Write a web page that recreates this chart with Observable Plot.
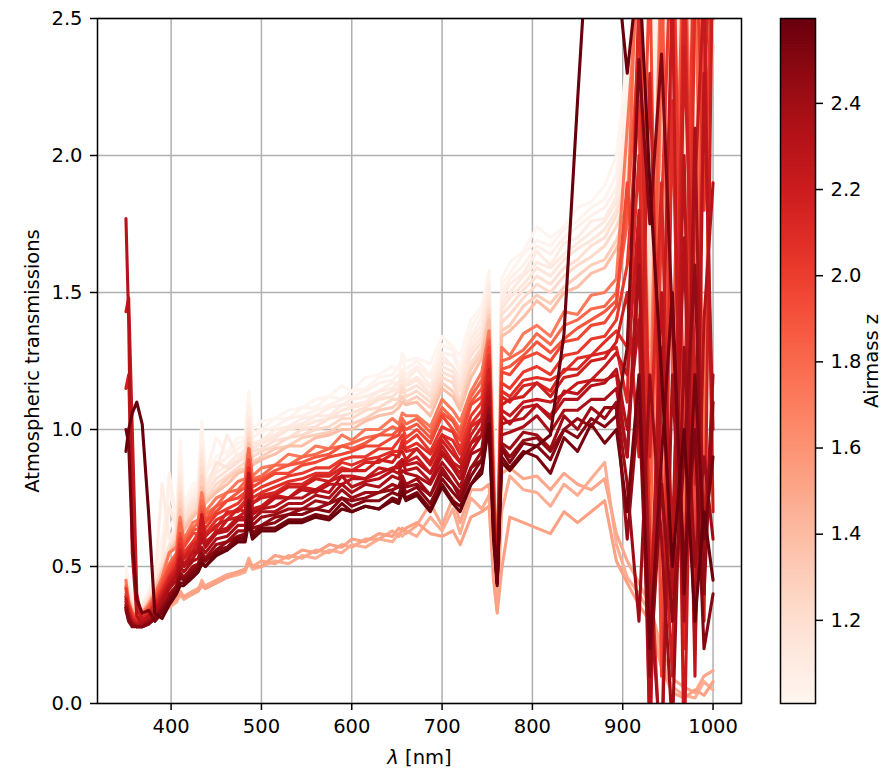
<!DOCTYPE html>
<html><head><meta charset="utf-8">
<script src="https://cdn.jsdelivr.net/npm/d3@7"></script>
<script src="https://cdn.jsdelivr.net/npm/@observablehq/plot@0.6"></script>
<style>
html,body{margin:0;padding:0;background:#fff;}
#wrap{position:relative;width:892px;height:770px;font-family:"DejaVu Sans",sans-serif;}
#main{position:absolute;left:0;top:0;}
#cbar{position:absolute;left:770px;top:0;}
</style></head><body><div id="wrap"><div id="main"></div><div id="cbar"></div></div>
<script>
const wavelength = [350,353,357,362,368,375,382,390,398,406, 410,414,424,430,434,438,450,462,474,482, 486,490,500,515,530,545,560,575,589,600, 615,630,645,652,656,660,672,687,700,712, 720,732,744,752,757,761,766,775,790,805, 820,835,850,865,880,893,905,918,930,943, 955,968,980,990,1000];
const airmass = [1.01,1.03,1.05,1.08,1.11,1.14,1.18,1.23,1.30,1.38, 1.47,1.50,1.53, 1.72,1.80,1.88,1.95,2.02,2.08,2.13,2.18,2.22,2.27,2.31,2.36,2.41,2.45,2.50,2.54,2.59];

const p01 = [0.50,0.44,0.38,0.36,0.37,0.41,0.47,0.56,0.64,0.69, 0.96,0.73,0.80,0.81,1.03,0.84,0.90,0.92,0.97,0.97, 1.14,1.00,1.03,1.04,1.07,1.08,1.11,1.12,1.16,1.14, 1.19,1.20,1.23,1.22,1.28,1.25,1.26,1.24,1.34,1.30, 1.27,1.40,1.45,1.58,0.98,0.55,1.55,1.61,1.65,1.74, 1.70,1.74,1.81,1.83,1.89,2.00,2.35,2.80,2.40,3.00, 2.60,3.20,2.70,3.00,2.80];
const p02 = [0.47,0.43,0.38,0.35,0.36,0.40,0.46,0.60,0.78,0.67, 0.92,0.72,0.78,0.80,1.00,0.83,0.97,0.91,0.95,0.96, 1.11,0.99,1.00,1.04,1.04,1.08,1.08,1.12,1.11,1.14, 1.15,1.19,1.20,1.23,1.25,1.22,1.25,1.20,1.31,1.29, 1.23,1.37,1.44,1.56,0.97,0.53,1.53,1.57,1.64,1.69, 1.67,1.73,1.76,1.81,1.84,1.93,2.25,2.70,2.20,2.95, 2.45,3.10,2.55,2.95,3.00];
const p03 = [0.46,0.42,0.37,0.35,0.36,0.40,0.45,0.53,0.84,0.66, 0.88,0.71,0.76,0.79,0.99,0.81,0.86,0.90,0.93,0.95, 1.08,0.97,0.99,1.01,1.04,1.05,1.07,1.09,1.11,1.12, 1.14,1.17,1.18,1.20,1.22,1.20,1.23,1.19,1.28,1.27, 1.21,1.34,1.41,1.54,0.95,0.52,1.50,1.55,1.60,1.67, 1.64,1.70,1.74,1.78,1.81,1.88,2.15,2.60,2.00,2.80, 2.20,2.95,2.30,2.80,3.00];
const p04 = [0.45,0.41,0.36,0.34,0.35,0.39,0.45,0.80,0.60,0.65, 0.85,0.69,0.75,0.77,0.94,0.80,0.85,0.98,0.90,0.93, 1.05,0.95,0.96,1.00,1.01,1.04,1.05,1.08,1.09,1.11, 1.12,1.14,1.17,1.17,1.21,1.18,1.22,1.16,1.27,1.23, 1.19,1.33,1.38,1.52,0.94,0.50,1.48,1.53,1.57,1.65, 1.60,1.68,1.70,1.76,1.77,1.85,2.10,2.50,1.90,2.70, 2.00,2.80,2.20,2.70,2.90];
const p05 = [0.44,0.40,0.36,0.34,0.35,0.39,0.44,0.52,0.72,0.64, 0.84,0.69,0.74,0.76,0.93,0.79,0.84,0.87,0.91,0.91, 1.04,0.94,0.96,0.98,1.01,1.02,1.05,1.05,1.09,1.09, 1.10,1.14,1.15,1.17,1.19,1.17,1.19,1.15,1.25,1.23, 1.17,1.31,1.36,1.50,0.93,0.50,1.46,1.50,1.56,1.61, 1.59,1.64,1.68,1.72,1.76,1.83,2.05,2.45,1.80,2.65, 1.90,2.75,2.05,2.65,2.80];
const p06 = [0.44,0.40,0.36,0.34,0.35,0.38,0.44,0.51,0.58,0.63, 0.82,0.68,0.73,0.75,0.91,0.78,0.88,0.86,0.89,0.91, 1.02,0.93,0.95,0.97,1.00,1.01,1.03,1.04,1.07,1.08, 1.09,1.12,1.14,1.15,1.18,1.16,1.18,1.13,1.23,1.21, 1.15,1.29,1.34,1.48,0.92,0.50,1.44,1.48,1.53,1.59, 1.56,1.62,1.66,1.69,1.73,1.80,1.95,2.40,1.70,2.55, 1.85,2.70,1.95,2.60,2.70];
const p07 = [0.43,0.39,0.35,0.33,0.34,0.38,0.43,0.50,0.57,0.62, 0.79,0.67,0.72,0.74,0.89,0.77,0.82,0.85,0.88,0.90, 1.00,0.92,0.93,0.96,0.97,1.00,1.01,1.04,1.05,1.06, 1.08,1.11,1.12,1.14,1.16,1.14,1.16,1.12,1.21,1.19, 1.14,1.27,1.32,1.46,0.90,0.49,1.42,1.45,1.51,1.56, 1.53,1.59,1.62,1.67,1.70,1.78,1.90,2.30,1.60,2.40, 2.90,2.20,3.00,2.30,2.80];
const p08 = [0.42,0.39,0.35,0.33,0.34,0.37,0.42,0.49,0.56,0.61, 0.77,0.65,0.70,0.73,0.86,0.75,0.80,0.83,0.86,0.88, 0.99,0.90,0.92,0.94,0.97,0.98,1.00,1.01,1.04,1.04, 1.07,1.08,1.11,1.11,1.15,1.12,1.14,1.10,1.19,1.17, 1.11,1.24,1.30,1.44,0.89,0.49,1.39,1.42,1.48,1.53, 1.50,1.56,1.60,1.63,1.67,1.74,1.85,2.20,1.50,2.30, 2.70,2.00,2.80,2.10,2.60];
const p09 = [0.42,0.38,0.35,0.33,0.34,0.37,0.42,0.48,0.55,0.60, 0.74,0.64,0.69,0.71,0.83,0.74,0.78,0.82,0.85,0.86, 0.97,0.88,0.90,0.93,0.94,0.97,0.98,0.99,1.02,1.02, 1.04,1.07,1.08,1.10,1.12,1.10,1.12,1.08,1.17,1.14, 1.09,1.22,1.28,1.42,0.87,0.48,1.36,1.38,1.45,1.49, 1.46,1.52,1.56,1.60,1.62,1.69,1.80,2.15,1.40,2.20, 2.60,1.80,2.70,1.95,2.50];
const p10 = [0.41,0.38,0.34,0.33,0.33,0.37,0.41,0.48,0.55,0.59, 0.71,0.63,0.68,0.70,0.79,0.73,0.77,0.80,0.84,0.85, 0.95,0.87,0.89,0.91,0.94,0.94,0.97,0.98,1.00,1.00, 1.03,1.05,1.06,1.08,1.10,1.09,1.10,1.05,1.15,1.12, 1.07,1.19,1.26,1.40,0.86,0.48,1.34,1.36,1.41,1.47, 1.43,1.50,1.52,1.57,1.59,1.66,1.75,2.10,1.30,2.10, 2.50,1.60,2.60,1.80,2.40];
const q01 = [0.36,0.33,0.30,0.29,0.29,0.30,0.31,0.33,0.35,0.37, 0.40,0.38,0.40,0.41,0.45,0.42,0.44,0.46,0.47,0.48, 0.52,0.49,0.50,0.52,0.51,0.54,0.53,0.56,0.55,0.58, 0.57,0.60,0.59,0.62,0.61,0.63,0.61,0.68,0.63,0.71, 0.62,0.75,0.71,0.76,0.50,0.34,0.70,0.83,0.78,0.77, 0.72,0.80,0.76,0.82,0.88,0.58,0.46,0.40,0.33,0.16, 0.06,0.03,0.02,0.08,0.05];
const q02 = [0.35,0.32,0.30,0.29,0.29,0.30,0.31,0.33,0.36,0.38, 0.41,0.39,0.41,0.42,0.44,0.43,0.45,0.47,0.48,0.49, 0.53,0.50,0.52,0.51,0.54,0.53,0.56,0.55,0.58,0.57, 0.60,0.60,0.63,0.61,0.64,0.62,0.65,0.73,0.65,0.75, 0.66,0.78,0.78,0.80,0.52,0.38,0.84,0.86,0.82,0.83, 0.78,0.84,0.80,0.78,0.82,0.62,0.52,0.44,0.36,0.20, 0.09,0.06,0.04,0.10,0.12];
const q03 = [0.37,0.34,0.31,0.29,0.30,0.31,0.32,0.34,0.36,0.38, 0.40,0.39,0.40,0.41,0.43,0.42,0.44,0.46,0.48,0.49, 0.51,0.50,0.50,0.54,0.53,0.56,0.55,0.58,0.57,0.60, 0.59,0.62,0.61,0.64,0.63,0.64,0.66,0.62,0.61,0.63, 0.58,0.68,0.70,0.72,0.45,0.33,0.49,0.68,0.66,0.64, 0.62,0.70,0.66,0.70,0.74,0.52,0.44,0.36,0.30,0.13, 0.04,0.02,0.05,0.03,0.08];
const m01 = [0.45,0.37,0.33,0.32,0.33,0.36,0.40,0.46,0.55,0.57, 0.68,0.60,0.66,0.67,0.77,0.70,0.75,0.77,0.81,0.82, 0.93,0.83,0.86,0.87,0.91,0.90,0.94,0.93,0.98,0.96, 1.00,1.00,1.04,1.02,1.06,1.05,1.05,1.01,1.11,1.07, 1.03,1.14,1.21,1.36,0.82,0.48,1.30,1.27,1.35,1.38, 1.34,1.43,1.42,1.49,1.50,1.55,2.10,2.70,1.00,2.80, 0.30,2.90,1.40,3.00,2.70];
const m02 = [0.43,0.37,0.33,0.32,0.32,0.35,0.39,0.45,0.51,0.55, 0.66,0.59,0.64,0.66,0.74,0.69,0.72,0.77,0.78,0.81, 0.93,0.82,0.83,0.87,0.87,0.90,0.91,0.93,0.94,0.95, 0.97,0.98,1.01,1.00,1.04,1.02,1.04,0.99,1.08,1.04, 1.00,1.12,1.18,1.33,0.80,0.48,1.25,1.26,1.29,1.35, 1.31,1.38,1.40,1.44,1.45,1.50,1.75,2.95,0.50,2.40, 3.10,0.60,2.80,0.90,2.90];
const m03 = [0.40,0.36,0.33,0.31,0.32,0.35,0.38,0.44,0.50,0.54, 0.60,0.58,0.63,0.64,0.72,0.67,0.72,0.74,0.77,0.79, 0.86,0.81,0.82,0.85,0.87,0.88,0.90,0.91,0.94,0.93, 0.95,0.98,0.98,1.00,1.02,1.00,1.02,0.97,1.06,1.03, 0.98,1.10,1.15,1.32,0.79,0.47,1.22,1.23,1.27,1.32, 1.28,1.33,1.37,1.40,1.43,1.47,1.80,2.40,0.80,2.60, 1.20,2.90,0.70,2.50,3.00];
const m04 = [0.39,0.36,0.32,0.31,0.32,0.34,0.38,0.43,0.49,0.53, 0.62,0.57,0.62,0.62,0.70,0.66,0.70,0.74,0.75,0.77, 0.89,0.79,0.81,0.84,0.84,0.87,0.88,0.90,0.91,0.92, 0.94,0.94,0.97,0.98,1.01,0.97,1.00,0.95,1.05,1.00, 0.96,1.09,1.12,1.30,0.78,0.47,1.21,1.20,1.26,1.28, 1.25,1.32,1.33,1.38,1.39,1.45,1.90,1.30,2.70,0.10, 2.60,3.00,0.40,2.70,3.00];
const m05 = [0.42,0.36,0.32,0.30,0.31,0.33,0.37,0.42,0.47,0.52, 0.60,0.55,0.59,0.62,0.66,0.64,0.69,0.71,0.73,0.76, 0.86,0.77,0.79,0.81,0.83,0.84,0.86,0.86,0.89,0.90, 0.90,0.93,0.93,0.96,0.98,0.95,0.98,0.92,1.01,0.99, 0.93,1.05,1.10,1.27,0.76,0.46,1.17,1.15,1.21,1.23, 1.20,1.27,1.28,1.33,1.34,1.40,1.60,2.20,-0.20,1.80, 2.90,1.00,3.00,1.80,2.80];
const m06 = [0.37,0.35,0.31,0.30,0.31,0.33,0.36,0.41,0.46,0.50, 0.58,0.54,0.58,0.60,0.68,0.62,0.67,0.69,0.71,0.74, 0.86,0.75,0.77,0.79,0.81,0.82,0.84,0.84,0.88,0.87, 0.89,0.90,0.92,0.92,0.96,0.93,0.95,0.91,0.98,0.96, 0.91,1.02,1.07,1.25,0.74,0.46,1.14,1.12,1.18,1.19, 1.18,1.21,1.26,1.27,1.32,1.36,1.30,2.00,0.60,-0.30, 2.20,0.20,2.60,3.10,2.50];
const m07 = [0.39,0.34,0.31,0.30,0.31,0.33,0.36,0.40,0.46,0.50, 0.55,0.53,0.58,0.59,0.68,0.62,0.64,0.70,0.70,0.73, 0.83,0.73,0.76,0.77,0.80,0.80,0.83,0.83,0.86,0.85, 0.88,0.88,0.91,0.90,0.94,0.92,0.93,0.88,0.98,0.93, 0.88,1.01,1.04,1.21,0.73,0.46,1.12,1.10,1.16,1.17, 1.14,1.22,1.22,1.27,1.28,1.30,1.10,2.60,0.90,1.90, 0.30,2.70,0.80,2.20,3.00];
const m08 = [1.15,1.20,0.70,0.36,0.30,0.32,0.35,0.40,0.45,0.49, 0.56,0.53,0.56,0.59,0.64,0.61,0.65,0.67,0.71,0.70, 0.84,0.73,0.75,0.76,0.79,0.79,0.82,0.81,0.85,0.85, 0.85,0.89,0.88,0.91,0.92,0.89,0.93,0.87,0.96,0.91, 0.88,0.98,1.04,1.22,0.72,0.45,1.09,1.11,1.12,1.17, 1.12,1.19,1.20,1.25,1.26,1.32,1.50,0.90,2.30,0.80, 0.10,2.40,1.20,0.30,2.90];
const m09 = [1.43,1.48,1.00,0.40,0.30,0.31,0.34,0.39,0.44,0.48, 0.54,0.51,0.55,0.57,0.69,0.59,0.62,0.67,0.68,0.70, 0.82,0.71,0.72,0.76,0.75,0.79,0.78,0.81,0.83,0.83, 0.82,0.86,0.85,0.88,0.89,0.88,0.90,0.84,0.94,0.88, 0.86,0.95,1.01,1.17,0.70,0.45,1.07,1.05,1.10,1.11, 1.10,1.13,1.17,1.18,1.23,1.28,1.20,1.80,0.30,1.10, 2.60,-0.20,1.90,2.60,0.70];
const m10 = [0.38,0.33,0.30,0.29,0.30,0.32,0.34,0.38,0.43,0.47, 0.51,0.50,0.55,0.55,0.62,0.58,0.63,0.64,0.68,0.68, 0.84,0.70,0.71,0.75,0.75,0.78,0.77,0.80,0.80,0.82, 0.82,0.84,0.86,0.86,0.89,0.87,0.88,0.84,0.92,0.87, 0.84,0.95,0.98,1.16,0.70,0.45,1.05,1.02,1.08,1.09, 1.05,1.14,1.13,1.18,1.18,1.20,0.90,1.70,0.20,1.50, 0.60,2.00,0.10,2.30,1.00];
const m11 = [1.77,1.40,0.55,0.32,0.29,0.31,0.33,0.38,0.43,0.47, 0.53,0.50,0.53,0.56,0.60,0.57,0.62,0.63,0.67,0.67, 0.79,0.69,0.71,0.72,0.75,0.75,0.78,0.77,0.83,0.79, 0.81,0.82,0.85,0.84,0.88,0.85,0.86,0.81,0.91,0.86, 0.82,0.92,0.98,1.14,0.69,0.44,1.02,1.03,1.04,1.09, 1.04,1.11,1.11,1.16,1.17,1.22,1.00,1.40,-0.10,1.30, 0.40,1.70,0.20,1.40,1.90];
const m12 = [0.36,0.32,0.29,0.28,0.29,0.30,0.32,0.37,0.42,0.45, 0.50,0.48,0.52,0.53,0.57,0.55,0.60,0.61,0.65,0.65, 0.75,0.67,0.70,0.70,0.73,0.73,0.76,0.75,0.80,0.77, 0.80,0.79,0.83,0.82,0.85,0.84,0.83,0.80,0.88,0.83, 0.79,0.91,0.93,1.12,0.67,0.44,0.98,0.99,1.01,1.05, 0.99,1.07,1.07,1.11,1.11,1.15,0.90,1.60,0.40,-0.20, 1.20,0.30,2.10,0.50,1.20];
const m13 = [0.35,0.31,0.29,0.28,0.28,0.30,0.31,0.35,0.40,0.43, 0.48,0.46,0.50,0.51,0.55,0.53,0.58,0.59,0.63,0.63, 0.73,0.65,0.68,0.69,0.71,0.71,0.74,0.73,0.78,0.75, 0.77,0.77,0.80,0.79,0.83,0.80,0.82,0.76,0.86,0.80, 0.77,0.86,0.92,1.08,0.66,0.44,0.95,0.93,0.99,0.98, 0.93,1.05,1.00,1.08,1.04,1.10,0.80,0.30,1.20,0.60, -0.10,1.30,0.50,0.90,0.60];
const m14 = [0.35,0.31,0.29,0.28,0.28,0.29,0.31,0.35,0.39,0.43, 0.47,0.46,0.49,0.50,0.55,0.52,0.56,0.59,0.61,0.62, 0.70,0.64,0.65,0.68,0.69,0.71,0.71,0.73,0.75,0.74, 0.75,0.77,0.78,0.79,0.81,0.79,0.80,0.76,0.84,0.80, 0.75,0.86,0.89,1.07,0.65,0.44,0.94,0.90,0.96,0.97, 0.92,1.00,1.04,1.01,1.08,1.08,0.60,1.10,0.10,0.80, 0.30,0.90,1.60,0.40,1.10];
const m15 = [0.34,0.30,0.28,0.28,0.28,0.29,0.31,0.34,0.38,0.42, 0.46,0.45,0.48,0.50,0.53,0.52,0.56,0.57,0.61,0.61, 0.74,0.62,0.65,0.66,0.69,0.69,0.71,0.70,0.75,0.72, 0.74,0.74,0.77,0.76,0.80,0.77,0.79,0.73,0.82,0.77, 0.74,0.83,0.89,1.05,0.64,0.44,0.93,0.88,0.95,0.94, 0.89,1.00,0.97,1.04,1.01,1.05,1.30,2.35,1.75,2.37, 1.40,0.50,1.00,0.20,0.40];
const m16 = [1.00,0.95,0.60,0.38,0.33,0.34,0.30,0.33,0.37,0.41, 0.44,0.44,0.47,0.49,0.52,0.50,0.55,0.56,0.60,0.60, 0.69,0.61,0.64,0.64,0.67,0.67,0.69,0.68,0.73,0.70, 0.72,0.71,0.75,0.74,0.78,0.75,0.77,0.71,0.80,0.74, 0.72,0.80,0.86,1.02,0.62,0.44,0.90,0.86,0.92,0.90, 0.84,0.97,0.92,1.02,0.95,1.00,0.70,1.20,0.20,0.90, 1.50,0.40,1.20,0.60,0.90];
const m17 = [0.92,1.00,1.06,1.10,1.02,0.70,0.33,0.31,0.36,0.40, 0.43,0.43,0.46,0.48,0.51,0.50,0.54,0.56,0.59,0.59, 0.66,0.60,0.63,0.63,0.66,0.66,0.68,0.67,0.71,0.70, 0.72,0.71,0.74,0.73,0.77,0.74,0.76,0.70,0.79,0.73, 0.70,0.80,0.84,1.02,0.60,0.43,0.88,0.85,0.91,0.94, 0.98,1.35,2.20,3.00,3.40,2.70,2.30,2.70,1.90,1.20, 0.50,1.00,0.30,0.70,0.45];

const series = [p01,p02,p03,p04,p05,p06,p07,p08,p09,p10,q01,q02,q03,m01,m02,m03,m04,m05,m06,m07,m08,m09,m10,m11,m12,m13,m14,m15,m16,m17];
const xTicks = [400,500,600,700,800,900,1000];
const yTicks = [0,0.5,1.0,1.5,2.0,2.5];
const zTicks = [1.2,1.4,1.6,1.8,2.0,2.2,2.4];
const zDomain = [1.007, 2.597];

const rows = [];
series.forEach((vals, k) => vals.forEach((v, i) => rows.push({id: k, z: airmass[k], w: wavelength[i], v})));

const FS = 19.5;
const main = Plot.plot({
  width: 770, height: 770,
  marginLeft: 97, marginRight: 29, marginTop: 18, marginBottom: 67,
  style: {fontFamily: "DejaVu Sans", fontSize: FS + "px", background: "white", color: "black"},
  x: {domain: [318.5, 1031.5], label: null},
  y: {domain: [0, 2.5], label: null},
  color: {type: "linear", scheme: "reds", domain: zDomain},
  marks: [
    Plot.gridX(xTicks, {stroke: "#b0b0b0", strokeOpacity: 1, strokeWidth: 1.5}),
    Plot.gridY(yTicks, {stroke: "#b0b0b0", strokeOpacity: 1, strokeWidth: 1.5}),
    Plot.line(rows, {x: "w", y: "v", z: "id", stroke: "z", strokeWidth: 3.1, clip: true}),
    Plot.frame({stroke: "black", strokeWidth: 1.5}),
    Plot.axisX({ticks: xTicks, tickSize: 7, tickPadding: 9, strokeWidth: 1.5, tickFormat: d3.format("d"), fontSize: FS, label: null}),
    Plot.axisY({ticks: yTicks, tickSize: 7, tickPadding: 8, strokeWidth: 1.5, tickFormat: d3.format(".1f"), fontSize: FS, label: null}),
    Plot.text(["Atmospheric transmissions"], {frameAnchor: "left", textAnchor: "middle", lineAnchor: "middle", dx: -65, rotate: -90, fontSize: FS, fill: "black"}),
    Plot.text(["λ [nm]"], {frameAnchor: "bottom", textAnchor: "middle", lineAnchor: "middle", dy: 54, fontSize: FS, fill: "black"})
  ]
});
document.getElementById("main").appendChild(main);
d3.select(main).selectAll("text").filter(function(){ return this.textContent === "λ [nm]"; }).each(function(){
  const t = d3.select(this); t.text(null);
  t.append("tspan").attr("font-style", "italic").text("λ");
  t.append("tspan").text(" [nm]");
});

const nStops = 240;
const stops = d3.range(nStops).map(i => {
  const a = zDomain[0] + (zDomain[1] - zDomain[0]) * i / nStops;
  const b = zDomain[0] + (zDomain[1] - zDomain[0]) * (i + 1.6) / nStops;
  return {a, b: Math.min(b, zDomain[1]), m: zDomain[0] + (zDomain[1] - zDomain[0]) * (i + 0.5) / nStops};
});
const cbar = Plot.plot({
  width: 122, height: 770,
  marginLeft: 10, marginRight: 77, marginTop: 18, marginBottom: 67,
  style: {fontFamily: "DejaVu Sans", fontSize: FS + "px", background: "transparent", color: "black"},
  x: {domain: [0, 1], axis: null},
  y: {domain: zDomain, label: null, axis: null},
  color: {type: "linear", scheme: "reds", domain: zDomain},
  marks: [
    Plot.rect(stops, {x1: 0, x2: 1, y1: "a", y2: "b", fill: "m"}),
    Plot.frame({stroke: "black", strokeWidth: 1.5}),
    Plot.axisY({anchor: "right", ticks: zTicks, tickSize: 7, tickPadding: 8, strokeWidth: 1.5, tickFormat: d3.format(".1f"), fontSize: FS, label: null}),
    Plot.text(["Airmass z"], {frameAnchor: "right", textAnchor: "middle", lineAnchor: "middle", dx: 56, rotate: -90, fontSize: FS, fill: "black"})
  ]
});
document.getElementById("cbar").appendChild(cbar);
</script></body></html>
